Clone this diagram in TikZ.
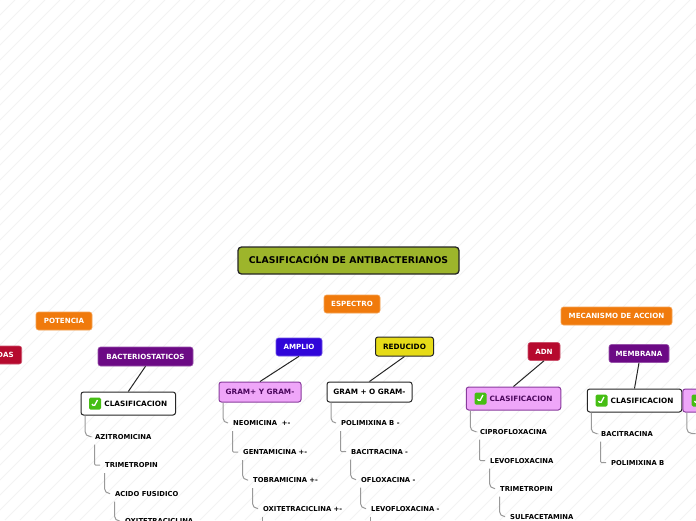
\documentclass[tikz,border=0pt]{standalone}
\usepackage{fontspec}
\setmainfont{DejaVu Sans}
\usepackage{xcolor}
\usetikzlibrary{positioning, calc}
\definecolor{mapolive}{RGB}{157,181,43}
\definecolor{maporange}{RGB}{240,122,12}
\definecolor{mapred}{RGB}{182,10,46}
\definecolor{mappurple}{RGB}{108,10,133}
\definecolor{mapblue}{RGB}{48,5,217}
\definecolor{mapyellow}{RGB}{230,219,23}
\definecolor{mappink}{RGB}{239,166,249}
\definecolor{mapgreen}{RGB}{70,190,20}
\definecolor{mapstripe}{RGB}{243,243,243}

\begin{document}
\begin{tikzpicture}[
  x=1pt, y=-1pt,
  topic/.style={rectangle, rounded corners=2.5pt, inner sep=0pt, text height=5.3pt, text depth=0pt,
                font=\fontsize{7.3}{8}\selectfont\bfseries, align=center},
  headbox/.style={topic, draw=#1!70, fill=#1, text=white, line width=0.6pt,
                  font=\fontsize{7.1}{8}\selectfont\bfseries},
  blackbox/.style={topic, draw=black!85, fill=white, text=black, line width=1pt},
  yellowbox/.style={blackbox, fill=mapyellow},
  pinkbox/.style={topic, draw=mappurple!80, fill=mappink, text=mappurple!70!black, line width=1pt},
  leaf/.style={anchor=west, inner xsep=0.5pt, inner ysep=0pt, minimum height=16pt,
               text height=5pt, text depth=0pt,
               font=\fontsize{6.8}{8}\selectfont\bfseries, text=black},
  chkbox/.style={rectangle, rounded corners=1.5pt, fill=mapgreen, minimum size=12pt, inner sep=0pt,
                 path picture={\draw[white, line width=1.3pt]
                   ($(path picture bounding box.center)+(-3,0.5)$) -- ++(2,2.5) -- ++(3.5,-6.5);}},
  branch/.style={draw=black!40, line width=1pt, rounded corners=5pt, shorten >=4.5pt},
  elbow/.style={branch, rounded corners=1pt},
  link/.style={draw=black!85, line width=1pt},
  stripe/.style={draw=mapstripe, line width=0.8pt},
]

% Background
\useasboundingbox (0,0) rectangle (696,520);
\clip (0,0) rectangle (696,520);
\fill[white] (0,0) rectangle (696,520);
\foreach \s in {-520,-505,...,696} {
  \draw[stripe] (\s,520) -- (\s+520,0);
}

% Title and main topics
\node[blackbox, fill=mapolive, minimum width=221pt, minimum height=27pt, text height=6.8pt,
      rounded corners=3.5pt, line width=1.3pt,
      font=\fontsize{9.3}{11}\selectfont\bfseries] (title) at (348.5,260.5) {CLASIFICACIÓN DE ANTIBACTERIANOS};
\node[headbox=maporange, minimum width=56pt, minimum height=18pt] (potencia) at (64,321) {POTENCIA};
\node[headbox=maporange, minimum width=56pt, minimum height=18pt] (espectro) at (352,304) {ESPECTRO};
\node[headbox=maporange, minimum width=111pt, minimum height=18pt] (mecanismo) at (616.5,316) {MECANISMO DE ACCION};

% Second level
\node[headbox=mapred, anchor=east, text width=50pt, align=right, inner xsep=8pt,
      minimum height=18pt] (bactericidas) at (22,355) {DAS};
\node[headbox=mappurple, minimum width=95pt, minimum height=19pt] (bacterio) at (145.5,356.5) {BACTERIOSTATICOS};
\node[headbox=mapblue, minimum width=46pt, minimum height=18pt] (amplio) at (299,347) {AMPLIO};
\node[yellowbox, text=black, minimum width=58pt, minimum height=19pt] (reducido) at (404.5,346.5) {REDUCIDO};
\node[headbox=mapred, minimum width=32pt, minimum height=18pt] (adn) at (544,351.5) {ADN};
\node[headbox=mappurple, minimum width=60pt, minimum height=18pt] (membrana) at (639,353.5) {MEMBRANA};

% Third level
\node[blackbox, minimum width=94.5pt, minimum height=23pt] (clasbac) at (128.3,403.5) {\hspace{15pt}CLASIFICACION};
\node[pinkbox, minimum width=82pt, minimum height=20pt] (gramy) at (260,392) {GRAM+ Y GRAM-};
\node[blackbox, minimum width=85pt, minimum height=20pt] (gramo) at (369.5,392) {GRAM + O GRAM-};
\node[pinkbox, minimum width=94.5pt, minimum height=23pt] (clasadn) at (513.5,398.5) {\hspace{15pt}CLASIFICACION};
\node[blackbox, minimum width=94.5pt, minimum height=23pt] (clasmem) at (634.5,400.5) {\hspace{15pt}CLASIFICACION};
\node[pinkbox, minimum width=94.5pt, minimum height=23pt] (clasotro) at (730,400.5) {};

% Check marks
\node[chkbox] (chkbac) at (95,403.5) {};
\node[chkbox] (chkadn) at (480.5,398.5) {};
\node[chkbox] (chkmem) at (601.5,400.5) {};
\node[chkbox] (chkotro) at (697.5,400.5) {};

% Links
\draw[link] (bacterio.south) -- (clasbac.north);
\draw[link] (amplio.south) -- (gramy.north);
\draw[link] (reducido.south) -- (gramo.north);
\draw[link] (adn.south) -- (clasadn.north);
\draw[link] (membrana.south) -- (clasmem.north);

% Leaves
\node[leaf] (azitro) at (94.5,436.5) {AZITROMICINA};
\node[leaf] (trimeb) at (104.5,465) {TRIMETROPIN};
\node[leaf] (acido) at (114.5,493.5) {ACIDO FUSIDICO};
\node[leaf] (oxib) at (124.5,521) {OXITETRACICLINA};

\node[leaf] (neo) at (232.5,423) {NEOMICINA\ \ +-};
\node[leaf] (genta) at (242.5,452) {GENTAMICINA +-};
\node[leaf] (tobra) at (252.5,480) {TOBRAMICINA +-};
\node[leaf] (oxia) at (262.5,508.5) {OXITETRACICLINA +-};
\coordinate (oxiaend) at (262.5,530);

\node[leaf] (polia) at (340.5,423) {POLIMIXINA B -};
\node[leaf] (baci) at (350.5,451.5) {BACITRACINA -};
\node[leaf] (oflo) at (360.5,479.5) {OFLOXACINA -};
\node[leaf] (levoa) at (370.5,508.5) {LEVOFLOXACINA -};
\coordinate (levoaend) at (370.5,530);

\node[leaf] (cipro) at (479.5,431.5) {CIPROFLOXACINA};
\node[leaf] (levob) at (489.5,460.5) {LEVOFLOXACINA};
\node[leaf] (trimea) at (499.5,488.5) {TRIMETROPIN};
\node[leaf] (sulfa) at (509.5,516.5) {SULFACETAMINA};

\node[leaf] (bacib) at (600.5,433.5) {BACITRACINA};
\node[leaf] (polib) at (610.5,462.5) {POLIMIXINA B};
\coordinate (otroend) at (700,433.5);

% Branches
\draw[branch] ([xshift=4.5pt]clasbac.south west) |- (azitro.west);
\draw[elbow] (azitro.south west) |- (trimeb.west);
\draw[branch] (trimeb.south west) |- (acido.west);
\draw[branch] (acido.south west) |- (oxib.west);

\draw[branch] ([xshift=4.5pt]gramy.south west) |- (neo.west);
\draw[elbow] (neo.south west) |- (genta.west);
\draw[branch] (genta.south west) |- (tobra.west);
\draw[branch] (tobra.south west) |- (oxia.west);
\draw[branch, shorten >=0pt] (oxia.south west) -- (oxiaend);

\draw[branch] ([xshift=4.5pt]gramo.south west) |- (polia.west);
\draw[elbow] (polia.south west) |- (baci.west);
\draw[branch] (baci.south west) |- (oflo.west);
\draw[branch] (oflo.south west) |- (levoa.west);
\draw[branch, shorten >=0pt] (levoa.south west) -- (levoaend);

\draw[branch] ([xshift=4.5pt]clasadn.south west) |- (cipro.west);
\draw[elbow] (cipro.south west) |- (levob.west);
\draw[branch] (levob.south west) |- (trimea.west);
\draw[branch] (trimea.south west) |- (sulfa.west);

\draw[branch] ([xshift=4.5pt]clasmem.south west) |- (bacib.west);
\draw[elbow] (bacib.south west) |- (polib.west);

\draw[branch] ([xshift=4.5pt]clasotro.south west) |- (otroend);

\end{tikzpicture}
\end{document}
